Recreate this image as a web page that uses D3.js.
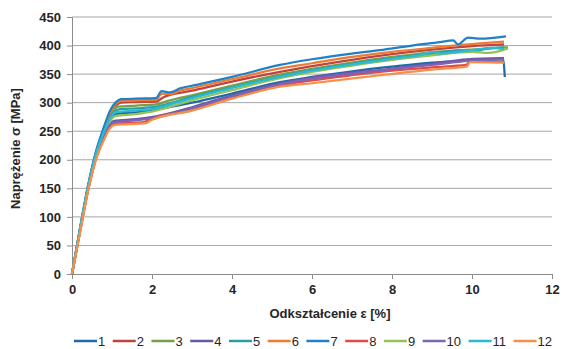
<!DOCTYPE html>
<html>
<head>
<meta charset="utf-8">
<script src="https://cdn.jsdelivr.net/npm/d3@7"></script>
<style>
  body { margin: 0; background: #fff; }
  svg text { font-family: "Liberation Sans", Arial, sans-serif; fill: #262626; }
</style>
</head>
<body>
<div id="chart"></div>
<script>
// strain [%], stress [MPa]
const s1 = [[0,0],[0.2,76],[0.4,149],[0.6,207],[0.8,248],[0.95,270],[1.1,280],[1.6,283],[2.1,288],[3,300],[4,316],[5.2,336],[6,345],[7,355],[8,363],[9,370],[10,374],[10.78,377],[10.82,345]];
const s2 = [[0,0],[0.2,79],[0.4,153],[0.6,212],[0.8,254],[0.95,280],[1.1,295],[1.22,300],[1.6,301],[2.1,302],[2.3,310],[3,321],[4,337],[5.2,354],[6,364],[7,375],[8,385],[9,393],[10,399],[10.8,402]];
const s3 = [[0,0],[0.2,78],[0.4,151],[0.6,210],[0.8,251],[0.95,277],[1.15,293],[1.6,295],[2.1,297],[2.4,303],[3,313],[4,330],[5.2,349],[6,359],[7,370],[8,380],[9,388],[10,393],[10.5,395],[10.9,397]];
const s4 = [[0,0],[0.2,75],[0.4,148],[0.6,204],[0.8,242],[0.95,262],[1.05,268],[1.6,271],[2.1,276],[3,292],[4,313],[5.2,334],[6,344],[7,353],[7.7,357],[8.5,364],[9,368],[9.87,376],[10.8,378]];
const s5 = [[0,0],[0.2,78],[0.4,151],[0.6,209],[0.8,250],[0.95,274],[1.15,288],[1.6,290],[2.1,293],[2.5,300],[3,310],[4,327],[5.2,346],[6,357],[7,368],[8,378],[9,386],[9.6,391],[10,390],[10.5,396],[10.8,397]];
const s6 = [[0,0],[0.2,78],[0.4,152],[0.6,212],[0.8,255],[0.95,282],[1.1,298],[1.22,303],[1.6,304],[2.1,305],[2.25,316],[2.45,315],[2.7,321],[3.1,327],[4,341],[5.2,360],[6,369],[7,380],[8,389],[9,396],[9.53,400],[10.2,404],[10.8,407]];
const s7 = [[0,0],[0.2,80],[0.4,155],[0.6,215],[0.8,258],[0.95,286],[1.1,301],[1.22,306],[1.6,307],[2.1,308],[2.24,320],[2.45,318],[2.7,325],[3.1,331],[4,345],[5.2,366],[6,376],[7,386],[7.7,392],[8.5,400],[9.2,406],[9.53,409],[9.65,402],[9.9,414],[10.2,412],[10.85,416]];
const s8 = [[0,0],[0.2,74],[0.4,146],[0.6,202],[0.8,238],[0.95,257],[1.07,263],[1.8,266],[2.0,272],[3,287],[4,309],[5.2,330],[6,339],[7,348],[8,356],[9,362],[9.85,366],[9.95,372],[10.8,372]];
const s9 = [[0,0],[0.2,77],[0.4,150],[0.6,208],[0.8,247],[0.95,268],[1.1,277],[1.6,280],[2.1,286],[2.5,294],[3,304],[4,322],[5.2,343],[6,354],[7,365],[8,375],[9,383],[10,389],[10.4,387],[10.9,395]];
const s10 = [[0,0],[0.2,75],[0.4,147],[0.6,203],[0.8,241],[0.95,261],[1.05,266],[1.6,269],[2.1,274],[3,290],[4,311],[5.2,332],[6,342],[7,351],[8,359],[9,366],[9.9,373],[10.8,376]];
const s11 = [[0,0],[0.2,79],[0.4,152],[0.6,210],[0.8,249],[0.95,272],[1.1,283],[1.6,286],[2.1,290],[2.5,298],[3,308],[4,326],[5.2,345],[6,356],[7,367],[8,377],[8.8,385],[9.0,389],[9.2,386],[10,392],[10.5,396],[10.8,394]];
const s12 = [[0,0],[0.2,72],[0.4,145],[0.6,200],[0.8,235],[0.95,255],[1.07,261],[1.84,264],[2.0,270],[3,286],[4,307],[5.2,328],[6,334],[7.7,348],[9,358],[9.87,363],[9.95,371],[10.8,370]];

const seriesNames = ['1','2','3','4','5','6','7','8','9','10','11','12'];
const seriesData = [s1, s2, s3, s4, s5, s6, s7, s8, s9, s10, s11, s12];
const colors = ['#1f69a6','#c0433f','#76a043','#6b58a4','#2a9ea6','#ee7b34',
                '#2080c8','#e24a4a','#95c257','#7e64b4','#2bbad3','#f69049'];

const xTicks = [0, 2, 4, 6, 8, 10, 12];
const yTicks = [0, 50, 100, 150, 200, 250, 300, 350, 400, 450];

const width = 565, height = 349;
const margin = {top: 17, right: 13, bottom: 75, left: 72};
const innerW = width - margin.left - margin.right;
const innerH = height - margin.top - margin.bottom;

const svg = d3.select('#chart').append('svg')
  .attr('width', width)
  .attr('height', height);

const x = d3.scaleLinear().domain([0, 12]).range([0, innerW]);
const y = d3.scaleLinear().domain([0, 450]).range([innerH, 0]);

const g = svg.append('g')
  .attr('transform', 'translate(' + margin.left + ',' + margin.top + ')');

// horizontal grid
g.append('g')
  .selectAll('line')
  .data(yTicks.filter(d => d > 0))
  .enter().append('line')
    .attr('x1', 0)
    .attr('x2', innerW)
    .attr('y1', d => y(d))
    .attr('y2', d => y(d))
    .attr('stroke', '#a6a6a6')
    .attr('stroke-width', 1);

// axes
const yAxis = g.append('g')
  .call(d3.axisLeft(y).tickValues(yTicks).tickSize(5).tickPadding(6));
const xAxis = g.append('g')
  .attr('transform', 'translate(0,' + innerH + ')')
  .call(d3.axisBottom(x).tickValues(xTicks).tickSize(5).tickPadding(6));

[xAxis, yAxis].forEach(a => {
  a.select('.domain').attr('stroke', '#8c8c8c');
  a.selectAll('.tick line').attr('stroke', '#8c8c8c');
  a.selectAll('.tick text')
    .style('font-size', '13px')
    .style('font-weight', 'bold')
    .attr('fill', '#262626');
});

// curves
const line = d3.line()
  .x(d => x(d[0]))
  .y(d => y(d[1]))
  .curve(d3.curveMonotoneX);

g.selectAll('.curve')
  .data(seriesData)
  .enter().append('path')
    .attr('class', 'curve')
    .attr('fill', 'none')
    .attr('stroke', (d, i) => colors[i])
    .attr('stroke-width', 2.25)
    .attr('stroke-linejoin', 'round')
    .attr('d', line);

// axis titles
svg.append('text')
  .attr('transform', 'translate(20,' + (margin.top + innerH / 2 + 3) + ') rotate(-90)')
  .attr('text-anchor', 'middle')
  .style('font-size', '13px')
  .style('font-weight', 'bold')
  .text('Naprężenie σ [MPa]');

svg.append('text')
  .attr('x', 330)
  .attr('y', 318)
  .attr('text-anchor', 'middle')
  .style('font-size', '13px')
  .style('font-weight', 'bold')
  .text('Odkształcenie ε [%]');

// legend
const legend = svg.append('g');
let lx = 74;
const ly = 341;
seriesNames.forEach((name, i) => {
  legend.append('line')
    .attr('x1', lx).attr('x2', lx + 23)
    .attr('y1', ly).attr('y2', ly)
    .attr('stroke', colors[i])
    .attr('stroke-width', 2.5);
  const t = legend.append('text')
    .attr('x', lx + 24)
    .attr('y', ly + 5)
    .style('font-size', '13px')
    .text(name);
  lx += 23 + 1 + t.node().getComputedTextLength() + 7.5;
});
</script>
</body>
</html>
